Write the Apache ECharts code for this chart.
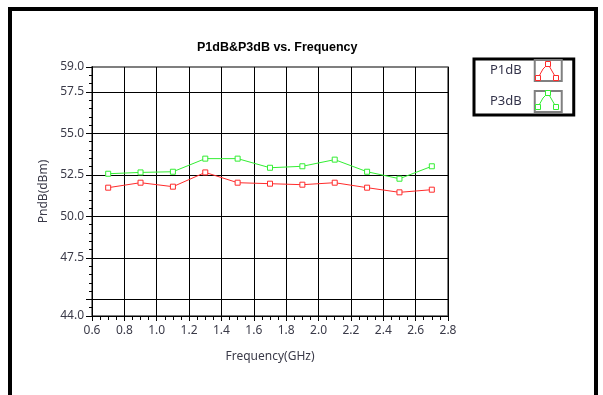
<!DOCTYPE html>
<html>
<head>
<meta charset="utf-8">
<script src="https://cdn.jsdelivr.net/npm/echarts@6/dist/echarts.min.js"></script>
<style>
  html, body { margin: 0; padding: 0; background: #fff; }
  #chart { width: 603px; height: 395px; }
</style>
</head>
<body>
<div id="chart"></div>
<script>
// Frequency sweep points (GHz)
const freqs = [0.7, 0.9, 1.1, 1.3, 1.5, 1.7, 1.9, 2.1, 2.3, 2.5, 2.7];
// Output power at 1 dB compression (dBm)
const p1dB = [51.73, 52.03, 51.79, 52.65, 52.03, 51.97, 51.91, 52.03, 51.73, 51.45, 51.61];
// Output power at 3 dB compression (dBm)
const p3dB = [52.57, 52.65, 52.69, 53.48, 53.48, 52.93, 53.02, 53.42, 52.69, 52.27, 53.02];
// Labelled values on the power axis
const yLabels = [44, 47.5, 50, 52.5, 55, 57.5, 59];
// Horizontal grid levels
const yGrid = [45, 47.5, 50, 52.5, 55, 57.5];
const seriesNames = ['P1dB', 'P3dB'];
const seriesColors = ['#ff2b2b', '#33ee33'];

const chart = echarts.init(document.getElementById('chart'), null, { renderer: 'canvas' });

const labelFont = { fontFamily: 'Noto Sans', fontSize: 12, color: '#3a3a48' };

function toPairs(xs, ys) { return xs.map((x, i) => [x, ys[i]]); }

function legendIcon(x, y, color) {
  // miniature line-with-markers sample shown inside each legend box
  const pts = [[x + 4, y + 19], [x + 9, y + 10], [x + 14, y + 5], [x + 18, y + 12], [x + 22, y + 19]];
  const items = [{
    type: 'polyline', shape: { points: pts },
    style: { stroke: color, fill: null, lineWidth: 1 }, z: 20
  }];
  [pts[0], pts[2], pts[4]].forEach(p => items.push({
    type: 'rect', shape: { x: p[0] - 2.5, y: p[1] - 2.5, width: 5, height: 5 },
    style: { stroke: color, fill: '#fff', lineWidth: 1 }, z: 21
  }));
  return items;
}

const yBase = {
  type: 'value', min: 44, max: 59, interval: 0.5,
  axisLine: { show: true, lineStyle: { color: '#000', width: 1 } },
  splitLine: { show: false }
};

const option = {
  animation: false,
  backgroundColor: '#fff',
  title: {
    text: 'P1dB&P3dB vs. Frequency',
    left: 192, top: 36,
    textStyle: { fontFamily: 'Liberation Sans', fontWeight: 'bold', fontSize: 12.5, color: '#000' }
  },
  legend: {
    data: seriesNames,
    orient: 'vertical',
    left: 474, top: 59,
    align: 'right',
    icon: 'rect',
    itemWidth: 27, itemHeight: 21,
    itemGap: 8,
    padding: [0, 11, 2, 16],
    borderColor: '#000', borderWidth: 3,
    itemStyle: { color: '#fff', borderColor: '#808080', borderWidth: 2 },
    lineStyle: { width: 0 },
    textStyle: { fontFamily: 'Noto Sans', fontSize: 13, color: '#33334a', padding: [0, 8, 0, 0] },
    selectedMode: false
  },
  grid: {
    left: 92, top: 67, width: 356, height: 249,
    show: true, borderColor: '#555', borderWidth: 1.5, containLabel: false
  },
  xAxis: {
    type: 'value',
    min: 0.6, max: 2.8, interval: 0.2,
    name: 'Frequency(GHz)', nameLocation: 'middle', nameGap: 35,
    nameTextStyle: labelFont,
    axisLine: { show: true, lineStyle: { color: '#000', width: 1 } },
    axisTick: { show: true, length: 5, lineStyle: { color: '#000' } },
    minorTick: { show: true, splitNumber: 4, length: 4, lineStyle: { color: '#000' } },
    axisLabel: Object.assign({ margin: 9, formatter: v => v.toFixed(1) }, labelFont),
    splitLine: { show: true, lineStyle: { color: '#000', width: 1 } }
  },
  yAxis: [
    Object.assign({}, yBase, {
      name: 'PndB(dBm)', nameLocation: 'middle', nameGap: 40,
      nameTextStyle: labelFont,
      axisTick: { show: true, length: 3, lineStyle: { color: '#000' } },
      axisLabel: Object.assign({
        margin: 8,
        formatter: v => (yLabels.some(l => Math.abs(l - v) < 1e-6) ? v.toFixed(1) : '')
      }, labelFont)
    }),
    // longer ticks at the labelled levels
    Object.assign({}, yBase, {
      position: 'left',
      axisTick: { show: true, length: 6, customValues: yLabels.concat([45]), lineStyle: { color: '#000' } },
      axisLabel: { show: false }
    })
  ],
  series: [
    {
      name: seriesNames[0], type: 'line',
      data: toPairs(freqs, p1dB),
      symbol: 'rect', symbolSize: 5,
      lineStyle: { color: seriesColors[0], width: 1 },
      itemStyle: { color: '#fff', borderColor: seriesColors[0], borderWidth: 1 },
      z: 5,
      markLine: {
        silent: true, symbol: 'none', label: { show: false },
        lineStyle: { color: '#000', type: 'solid', width: 1 },
        data: yGrid.map(v => ({ yAxis: v })),
        z: 1
      }
    },
    {
      name: seriesNames[1], type: 'line',
      data: toPairs(freqs, p3dB),
      symbol: 'rect', symbolSize: 5,
      lineStyle: { color: seriesColors[1], width: 1 },
      itemStyle: { color: '#fff', borderColor: seriesColors[1], borderWidth: 1 },
      z: 5
    }
  ],
  graphic: [
    {
      type: 'rect', shape: { x: 10, y: 9, width: 586, height: 420 },
      style: { stroke: '#000', fill: null, lineWidth: 4 }, z: 30
    }
  ].concat(legendIcon(534, 59, seriesColors[0]), legendIcon(534, 88, seriesColors[1]))
};

chart.setOption(option);
</script>
</body>
</html>
